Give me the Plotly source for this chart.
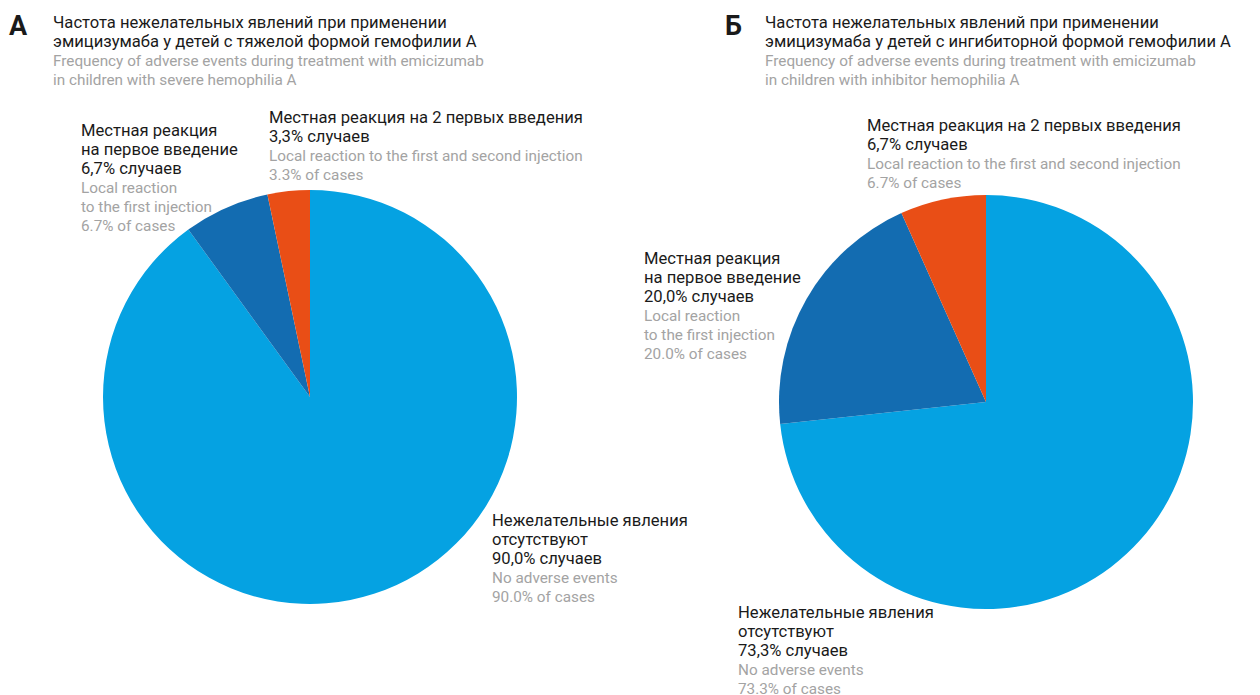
import plotly.graph_objects as go

# Figure size in pixels
W, H = 1260, 695

# ---- data ----
categories_ru = ["Нежелательные явления<br>отсутствуют", "Местная реакция<br>на первое введение",
                 "Местная реакция на 2 первых введения"]
categories_en = ["No adverse events", "Local reaction<br>to the first injection",
                 "Local reaction to the first and second injection"]
values_a = [90.0, 6.7, 3.3]
values_b = [73.3, 20.0, 6.7]
slice_colors = ["#05A2E2", "#136CB1", "#E94E16"]

title_a_ru = ["Частота нежелательных явлений при применении",
              "эмицизумаба у детей с тяжелой формой гемофилии А"]
title_a_en = ["Frequency of adverse events during treatment with emicizumab",
              "in children with severe hemophilia A"]
title_b_ru = ["Частота нежелательных явлений при применении",
              "эмицизумаба у детей с ингибиторной формой гемофилии А"]
title_b_en = ["Frequency of adverse events during treatment with emicizumab",
              "in children with inhibitor hemophilia A"]

FONT = "Roboto"
BLACK = "#1a1a1a"
GRAY = "#a3a3a3"
BASE = 14.6       # sets the line pitch (~19 px)
RU_SIZE = 16.6
EN_SIZE = 15.3
R = 207  # pie radius in px


def px_x(x):
    return x / W


def px_y(y):
    return 1 - y / H


def pie_domain(cx, cy, r):
    return dict(x=[px_x(cx - r), px_x(cx + r)], y=[px_y(cy + r), px_y(cy - r)])


fig = go.Figure()
for vals, (cx, cy) in [(values_a, (310, 397)), (values_b, (986, 402))]:
    fig.add_trace(go.Pie(
        values=vals, labels=["a", "b", "c"], sort=False, direction="clockwise", rotation=0,
        marker=dict(colors=slice_colors, line=dict(width=0)),
        textinfo="none", hoverinfo="skip", showlegend=False,
        domain=pie_domain(cx, cy, R),
    ))


def ru_line(s):
    return f"<span style='color:{BLACK};font-size:{RU_SIZE}px'>{s}</span>"


def en_line(s):
    return f"<span style='color:{GRAY};font-size:{EN_SIZE}px'>{s}</span>"


def block(ru_lines, en_lines):
    return "<br>".join([ru_line(s) for s in ru_lines] + [en_line(s) for s in en_lines])


def label(ru, en, v):
    ru_v = f"{v:.1f}".replace(".", ",") + "% случаев"
    en_v = f"{v:.1f}% of cases"
    return block(ru.split("<br>") + [ru_v], en.split("<br>") + [en_v])


annotations = []


def add_text(text, x, y, size=BASE, color=BLACK):
    annotations.append(dict(
        text=text, x=px_x(x), y=px_y(y), xref="paper", yref="paper",
        xanchor="left", yanchor="top", align="left", showarrow=False,
        font=dict(family=FONT, size=size, color=color), borderpad=0,
    ))


# panel letters
add_text("<b>А</b>", 8, 9, size=27)
add_text("<b>Б</b>", 724, 9, size=27)

# titles
add_text(block(title_a_ru, title_a_en), 52, 12)
add_text(block(title_b_ru, title_b_en), 764, 12)

# slice labels, panel A
add_text(label(categories_ru[1], categories_en[1], values_a[1]), 80, 120)
add_text(label(categories_ru[2], categories_en[2], values_a[2]), 268, 107)
add_text(label(categories_ru[0], categories_en[0], values_a[0]), 491, 510)

# slice labels, panel Б
add_text(label(categories_ru[2], categories_en[2], values_b[2]), 866, 115)
add_text(label(categories_ru[1], categories_en[1], values_b[1]), 643, 248)
add_text(label(categories_ru[0], categories_en[0], values_b[0]), 737, 602)

fig.update_layout(
    width=W, height=H, margin=dict(l=0, r=0, t=0, b=0),
    paper_bgcolor="white", plot_bgcolor="white",
    annotations=annotations,
)

fig.write_html("out.html")
